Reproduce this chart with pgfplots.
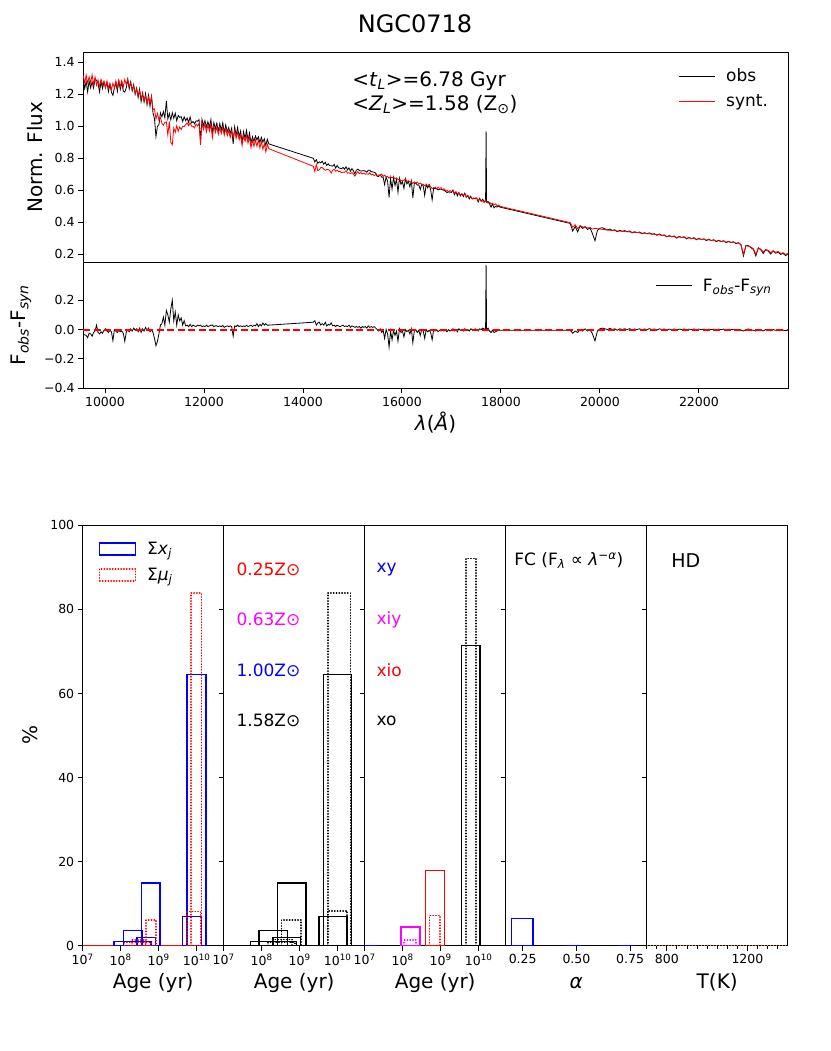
\documentclass[border=0pt]{standalone}
\usepackage{fontspec}
\setmainfont{DejaVu Sans}
\usepackage{pgfplots}
\usepackage{pgfplotstable}
\pgfplotsset{compat=1.18}
\definecolor{cR}{RGB}{255,0,0}
\definecolor{cM}{RGB}{255,0,255}
\definecolor{cB}{RGB}{0,0,255}
\definecolor{cK}{RGB}{0,0,0}
\newcommand{\fs}[2]{\fontsize{#1}{#2}\selectfont}
\pgfplotstableread{
lam obs syn res
9560 1.288 1.318 -0.030
9590 1.236 1.271 -0.035
9620 1.280 1.320 -0.040
9650 1.215 1.270 -0.055
9680 1.284 1.309 -0.025
9710 1.240 1.270 -0.030
9740 1.277 1.322 -0.045
9770 1.239 1.259 -0.020
9800 1.298 1.308 -0.010
9830 1.286 1.256 0.030
9860 1.270 1.290 -0.020
9890 1.215 1.245 -0.030
9920 1.279 1.294 -0.015
9950 1.235 1.260 -0.025
9980 1.277 1.282 -0.005
10010 1.244 1.239 0.005
10040 1.273 1.283 -0.010
10070 1.216 1.236 -0.020
10100 1.263 1.268 -0.005
10130 1.213 1.228 -0.015
10160 1.194 1.269 -0.075
10190 1.240 1.240 0.000
10220 1.272 1.284 -0.012
10250 1.219 1.239 -0.020
10280 1.283 1.288 -0.005
10310 1.231 1.246 -0.015
10340 1.275 1.285 -0.010
10370 1.220 1.245 -0.025
10400 1.214 1.294 -0.080
10430 1.240 1.260 -0.020
10460 1.294 1.294 0.000
10490 1.234 1.249 -0.015
10520 1.278 1.273 0.005
10550 1.221 1.231 -0.010
10580 1.260 1.250 0.010
10610 1.200 1.205 -0.005
10640 1.239 1.234 0.005
10670 1.180 1.195 -0.015
10700 1.232 1.222 0.010
10730 1.154 1.174 -0.020
10760 1.208 1.203 0.005
10790 1.151 1.161 -0.010
10820 1.205 1.190 0.015
10850 1.135 1.140 -0.005
10880 1.194 1.184 0.010
10910 1.125 1.140 -0.015
10940 1.187 1.187 0.000
10970 1.084 1.104 -0.020
11000 1.048 1.108 -0.060
11030 0.936 1.046 -0.110
11060 1.000 1.080 -0.080
11090 1.010 1.040 -0.030
11120 1.084 1.054 0.030
11150 1.060 1.020 0.040
11180 1.092 1.007 0.085
11210 1.054 1.024 0.030
11240 1.158 1.028 0.130
11270 1.046 0.946 0.100
11300 1.080 1.030 0.050
11330 1.040 0.900 0.140
11360 1.084 0.884 0.200
11390 1.050 0.990 0.060
11420 1.082 0.962 0.120
11450 1.034 1.004 0.030
11480 1.068 0.968 0.100
11510 1.056 0.996 0.060
11540 1.060 0.980 0.080
11570 1.030 1.000 0.030
11600 1.059 0.999 0.060
11630 1.035 1.010 0.025
11660 1.052 1.022 0.030
11690 1.024 1.004 0.020
11720 1.058 1.023 0.035
11750 1.021 1.001 0.020
11780 1.030 1.000 0.030
11810 1.015 0.990 0.025
11840 1.034 1.014 0.020
11870 1.032 1.002 0.030
11900 1.042 1.017 0.025
11930 0.914 0.884 0.030
11960 1.043 1.023 0.020
11990 1.006 0.981 0.025
12020 1.035 1.015 0.020
12050 0.995 0.965 0.030
12080 1.029 1.009 0.020
12110 0.995 0.970 0.025
12140 1.042 1.012 0.030
12170 0.959 0.929 0.030
12200 1.023 1.003 0.020
12230 0.986 0.961 0.025
12260 1.020 0.995 0.025
12290 0.970 0.950 0.020
12320 1.017 0.992 0.025
12350 0.975 0.955 0.020
12380 1.022 0.994 0.028
12410 0.959 0.944 0.015
12440 1.008 0.986 0.022
12470 0.966 0.941 0.025
12500 0.992 0.972 0.020
12530 0.955 0.930 0.025
12560 0.989 0.969 0.020
12590 0.890 0.935 -0.045
12620 0.997 0.972 0.025
12650 0.944 0.924 0.020
12680 0.993 0.963 0.030
12710 0.936 0.916 0.020
12740 0.970 0.945 0.025
12770 0.900 0.880 0.020
12800 0.967 0.942 0.025
12830 0.925 0.905 0.020
12860 0.974 0.944 0.030
12890 0.914 0.894 0.020
12920 0.958 0.933 0.025
12950 0.896 0.866 0.030
12980 0.935 0.915 0.020
13010 0.905 0.875 0.030
13040 0.939 0.914 0.025
13070 0.915 0.875 0.040
13100 0.935 0.915 0.020
13130 0.899 0.864 0.035
13160 0.931 0.906 0.025
13190 0.901 0.856 0.045
13220 0.922 0.892 0.030
13250 0.880 0.840 0.040
13280 0.919 0.889 0.030
13310 0.890 0.860 0.030
14210 0.800 0.750 0.050
14240 0.777 0.717 0.060
14270 0.791 0.761 0.030
14300 0.768 0.723 0.045
14330 0.778 0.728 0.050
14360 0.772 0.742 0.030
14390 0.782 0.742 0.040
14420 0.763 0.733 0.030
14450 0.775 0.725 0.050
14480 0.755 0.730 0.025
14510 0.766 0.731 0.035
14540 0.753 0.723 0.030
14570 0.753 0.708 0.045
14600 0.751 0.726 0.025
14630 0.762 0.732 0.030
14660 0.739 0.719 0.020
14690 0.755 0.725 0.030
14720 0.741 0.716 0.025
14750 0.738 0.718 0.020
14780 0.735 0.710 0.025
14810 0.743 0.713 0.030
14840 0.732 0.712 0.020
14870 0.747 0.722 0.025
14900 0.727 0.707 0.020
14930 0.740 0.710 0.030
14960 0.719 0.704 0.015
14990 0.736 0.711 0.025
15020 0.722 0.702 0.020
15050 0.703 0.688 0.015
15080 0.726 0.706 0.020
15110 0.732 0.717 0.015
15140 0.724 0.704 0.020
15170 0.720 0.710 0.010
15200 0.722 0.702 0.020
15230 0.723 0.708 0.015
15260 0.720 0.700 0.020
15290 0.713 0.703 0.010
15320 0.725 0.700 0.025
15350 0.725 0.710 0.015
15380 0.716 0.696 0.020
15410 0.715 0.700 0.015
15440 0.712 0.692 0.020
15470 0.708 0.698 0.010
15500 0.688 0.688 0.000
15530 0.686 0.696 -0.010
15560 0.697 0.692 0.005
15590 0.682 0.702 -0.020
15620 0.681 0.686 -0.005
15650 0.635 0.695 -0.060
15680 0.684 0.684 0.000
15710 0.656 0.686 -0.030
15740 0.556 0.676 -0.120
15770 0.674 0.684 -0.010
15800 0.608 0.678 -0.070
15830 0.679 0.684 -0.005
15860 0.631 0.671 -0.040
15890 0.668 0.678 -0.010
15920 0.587 0.667 -0.080
15950 0.676 0.671 0.005
15980 0.638 0.658 -0.020
16010 0.653 0.663 -0.010
16040 0.612 0.662 -0.050
16070 0.672 0.672 0.000
16100 0.640 0.655 -0.015
16130 0.655 0.660 -0.005
16160 0.622 0.652 -0.030
16190 0.659 0.654 0.005
16220 0.553 0.643 -0.090
16250 0.643 0.653 -0.010
16280 0.646 0.646 0.000
16310 0.632 0.652 -0.020
16340 0.634 0.639 -0.005
16370 0.605 0.645 -0.040
16400 0.637 0.637 0.000
16430 0.628 0.638 -0.010
16460 0.568 0.628 -0.060
16490 0.636 0.636 0.000
16520 0.615 0.630 -0.015
16550 0.632 0.637 -0.005
16580 0.603 0.623 -0.020
16610 0.540 0.610 -0.070
16640 0.612 0.617 -0.005
16670 0.611 0.621 -0.010
16700 0.610 0.610 0.000
16730 0.603 0.618 -0.015
16760 0.607 0.612 -0.005
16790 0.607 0.617 -0.010
16820 0.603 0.603 0.000
16850 0.600 0.610 -0.010
16880 0.594 0.599 -0.005
16910 0.586 0.601 -0.015
16940 0.590 0.590 0.000
16970 0.588 0.598 -0.010
17000 0.587 0.592 -0.005
17030 0.602 0.597 0.005
17060 0.573 0.583 -0.010
17090 0.590 0.590 0.000
17120 0.565 0.580 -0.015
17150 0.586 0.581 0.005
17180 0.565 0.570 -0.005
17210 0.578 0.578 0.000
17240 0.560 0.570 -0.010
17270 0.582 0.577 0.005
17300 0.556 0.561 -0.005
17330 0.568 0.568 0.000
17360 0.546 0.556 -0.010
17390 0.563 0.558 0.005
17420 0.546 0.546 0.000
17450 0.548 0.553 -0.005
17480 0.551 0.546 0.005
17510 0.552 0.552 0.000
17540 0.527 0.537 -0.010
17570 0.550 0.545 0.005
17600 0.532 0.532 0.000
17630 0.544 0.534 0.010
17660 0.528 0.523 0.005
17690 0.538 0.538 0.000
17700 0.968 0.528 0.440
17710 0.526 0.526 0.000
17740 0.530 0.520 0.010
17770 0.515 0.525 -0.010
17800 0.495 0.515 -0.020
17830 0.515 0.520 -0.005
17860 0.490 0.510 -0.020
17890 0.500 0.515 -0.015
17920 0.495 0.505 -0.010
17950 0.503 0.508 -0.005
17980 0.495 0.500 -0.005
19400 0.393 0.398 -0.005
19450 0.345 0.370 -0.025
19500 0.375 0.385 -0.010
19550 0.340 0.360 -0.020
19600 0.378 0.378 0.000
19650 0.362 0.372 -0.010
19700 0.373 0.368 0.005
19750 0.355 0.365 -0.010
19800 0.366 0.366 0.000
19850 0.328 0.358 -0.030
19900 0.285 0.362 -0.077
19950 0.350 0.360 -0.010
20000 0.363 0.358 0.005
20050 0.366 0.356 0.010
20100 0.359 0.354 0.005
20150 0.352 0.352 0.000
20200 0.358 0.350 0.008
20250 0.349 0.349 0.000
20300 0.353 0.348 0.005
20350 0.341 0.346 -0.005
20400 0.350 0.345 0.005
20450 0.344 0.344 0.000
20500 0.348 0.343 0.005
20550 0.341 0.341 0.000
20600 0.346 0.340 0.006
20650 0.334 0.338 -0.004
20700 0.341 0.337 0.004
20750 0.336 0.336 0.000
20800 0.339 0.334 0.005
20850 0.329 0.332 -0.003
20900 0.335 0.331 0.004
20950 0.329 0.329 0.000
21000 0.334 0.328 0.006
21050 0.326 0.326 0.000
21100 0.329 0.325 0.004
21150 0.319 0.323 -0.004
21200 0.327 0.322 0.005
21250 0.318 0.318 0.000
21300 0.321 0.317 0.004
21350 0.309 0.312 -0.003
21400 0.317 0.314 0.003
21450 0.310 0.310 0.000
21500 0.315 0.311 0.004
21550 0.301 0.305 -0.004
21600 0.312 0.309 0.003
21650 0.305 0.305 0.000
21700 0.310 0.306 0.004
21750 0.297 0.300 -0.003
21800 0.306 0.303 0.003
21850 0.298 0.298 0.000
21900 0.304 0.300 0.004
21950 0.291 0.294 -0.003
22000 0.300 0.297 0.003
22050 0.292 0.292 0.000
22100 0.297 0.294 0.003
22150 0.286 0.289 -0.003
22200 0.294 0.291 0.003
22250 0.286 0.286 0.000
22300 0.291 0.288 0.003
22350 0.279 0.283 -0.004
22400 0.288 0.285 0.003
22450 0.280 0.280 0.000
22500 0.285 0.282 0.003
22550 0.273 0.276 -0.003
22600 0.281 0.279 0.002
22650 0.274 0.274 0.000
22700 0.278 0.276 0.002
22750 0.267 0.270 -0.003
22800 0.272 0.272 0.000
22850 0.258 0.262 -0.004
22900 0.190 0.200 -0.010
22950 0.255 0.255 0.000
23000 0.254 0.250 0.004
23050 0.242 0.245 -0.003
23100 0.230 0.235 -0.005
23150 0.190 0.200 -0.010
23200 0.240 0.240 0.000
23250 0.228 0.232 -0.004
23300 0.205 0.215 -0.010
23350 0.230 0.230 0.000
23400 0.220 0.224 -0.004
23450 0.202 0.210 -0.008
23500 0.222 0.222 0.000
23550 0.207 0.212 -0.005
23600 0.213 0.218 -0.005
23650 0.199 0.205 -0.006
23700 0.206 0.210 -0.004
23750 0.192 0.200 -0.008
23800 0.202 0.205 -0.003
}\spec
\pgfplotsset{
  base/.style={
    scale only axis,
    axis line style={line width=0.9pt},
    tick style={line width=0.9pt, black},
    tick align=outside,
    major tick length=5pt,
    minor tick length=3pt,
    tick pos=left,
    ticklabel style={font=\fs{12.5}{15}},
    /pgf/number format/assume math mode=true,
    scaled ticks=false,
    label style={font=\fs{20}{24}},
  },
  panel/.style={
    base, anchor=south west, width=141pt, height=420.4pt,
    ymin=0, ymax=100, ytick={0,20,40,60,80,100}, yticklabels={},
    xlabel style={at={(axis description cs:0.5,-0.088)}, anchor=center},
  },
  agepanel/.style={
    panel, xmin=7, xmax=10.71, xtick={7,8,9,10},
    xticklabels={10\textsuperscript{7},10\textsuperscript{8},10\textsuperscript{9},10\textsuperscript{10}},
    xlabel={Age (yr)},
  },
  rectleg/.style={legend image code/.code={\draw[##1] (0pt,-6pt) rectangle (36pt,6pt);}},
  lineleg/.style={legend image code/.code={\draw[##1] (0pt,0pt) -- (36pt,0pt);}},
  gapleg/.style={/tikz/every odd column/.append style={column sep=9pt}},
}
\tikzset{sol/.style={line width=1.5pt}, dott/.style={line width=1.5pt, line cap=round, dash pattern=on 0.4pt off 2.4pt}}
\begin{document}
\begin{tikzpicture}
\path[use as bounding box] (0,0) rectangle (830pt,1051pt);
% ---------------- spectrum ----------------
\begin{axis}[base, at={(83pt,789pt)}, anchor=south west, width=705pt, height=209.7pt,
  xmin=9556, xmax=23800, ymin=0.152, ymax=1.4625,
  xtick=\empty, ytick={0.2,0.4,0.6,0.8,1.0,1.2,1.4},
  yticklabels={0.2,0.4,0.6,0.8,1.0,1.2,1.4},
  ylabel={Norm. Flux}, ylabel style={at={(axis description cs:-0.068,0.5)}, anchor=center},
  title={NGC0718}, title style={at={(axis description cs:0.471,1.0668)}, anchor=base, inner sep=0pt, font=\fs{24}{28}},
  legend style={draw=none, fill=none, at={(axis description cs:0.84,0.94)}, anchor=north west,
    font=\fs{17}{20}, row sep=7pt, cells={anchor=west}, gapleg},
  lineleg,
]
\addplot[cK, line width=0.8pt] table[x=lam, y=obs] {\spec};
\addplot[cR, line width=0.8pt] table[x=lam, y=syn] {\spec};
\legend{obs, synt.}
\node[anchor=west, font=\fs{20}{24}] at (axis description cs:0.377,0.862) {<\textit{t}\textsubscript{\textit{L}}>=6.78 Gyr};
\node[anchor=west, font=\fs{20}{24}] at (axis description cs:0.377,0.752) {<\textit{Z}\textsubscript{\textit{L}}>=1.58 (Z\textsubscript{⊙})};
\end{axis}
% ---------------- residual ----------------
\begin{axis}[base, at={(83pt,662.7pt)}, anchor=south west, width=705pt, height=126.3pt,
  xmin=9556, xmax=23800, ymin=-0.4, ymax=0.46,
  xtick={10000,12000,14000,16000,18000,20000,22000},
  xticklabels={10000,12000,14000,16000,18000,20000,22000},
  ytick={-0.4,-0.2,0,0.2}, yticklabels={−0.4,−0.2,0.0,0.2},
  xlabel={\textit{λ}(\textit{Å})}, xlabel style={at={(axis description cs:0.5,-0.27)}, anchor=center},
  ylabel={F\textsubscript{\textit{obs}}-F\textsubscript{\textit{syn}}},
  ylabel style={at={(axis description cs:-0.088,0.5)}, anchor=center},
  legend style={draw=none, fill=none, at={(axis description cs:0.807,0.90)}, anchor=north west,
    font=\fs{17}{20}, gapleg},
  lineleg,
]
\addplot[cK, line width=0.8pt] table[x=lam, y=res] {\spec};
\addlegendentry{F\textsubscript{\textit{obs}}-F\textsubscript{\textit{syn}}}
\addplot[cR, line width=2pt, dash pattern=on 7pt off 3.5pt, forget plot] coordinates {(9556,0) (23800,0)};
\end{axis}
% ---------------- panel 1 ----------------
\begin{axis}[agepanel, at={(82.7pt,105.3pt)},
  yticklabels={0,20,40,60,80,100}, ylabel={\%},
  ylabel style={at={(axis description cs:-0.374,0.5)}, anchor=center},
  legend style={draw=none, fill=none, at={(axis description cs:0.09,0.97)}, anchor=north west,
    font=\fs{17}{20}, row sep=8pt, cells={anchor=west}, gapleg},
]
\addplot[cR, line width=1pt, forget plot] coordinates {(7,0) (9.9,0)};
\addplot[cB, sol, forget plot] coordinates {(7.83,0) (7.83,1.0) (8.80,1.0) (8.80,0) (7.83,0)};
\addplot[cB, sol, forget plot] coordinates {(8.07,0) (8.07,3.6) (8.57,3.6) (8.57,0) (8.07,0)};
\addplot[cB, sol, forget plot] coordinates {(8.55,0) (8.55,14.9) (9.04,14.9) (9.04,0) (8.55,0)};
\addplot[cB, sol, forget plot] coordinates {(8.43,0) (8.43,2.0) (8.92,2.0) (8.92,0) (8.43,0)};
\addplot[cB, sol, forget plot] coordinates {(9.63,0) (9.63,7.0) (10.12,7.0) (10.12,0) (9.63,0)};
\addplot[cB, sol, forget plot] coordinates {(9.74,0) (9.74,64.5) (10.24,64.5) (10.24,0) (9.74,0)};
\addplot[cR, dott, forget plot] coordinates {(8.67,0) (8.67,6.1) (8.93,6.1) (8.93,0) (8.67,0)};
\addplot[cR, dott, forget plot] coordinates {(9.75,0) (9.75,8.1) (10.10,8.1) (10.10,0) (9.75,0)};
\addplot[cR, dott, forget plot] coordinates {(9.85,0) (9.85,83.9) (10.12,83.9) (10.12,0) (9.85,0)};
\addplot[cR, dott, forget plot] coordinates {(8.10,0) (8.10,0.8) (8.80,0.8) (8.80,0) (8.10,0)};
\addplot[cR, dott, forget plot] coordinates {(8.30,0) (8.30,1.3) (8.65,1.3) (8.65,0) (8.30,0)};
\addlegendimage{cB, line width=1.5pt, rectleg}
\addlegendentry{Σ\textit{x}\textsubscript{\textit{j}}}
\addlegendimage{cR, dott, rectleg}
\addlegendentry{Σ\textit{μ}\textsubscript{\textit{j}}}
\end{axis}
% ---------------- panel 2 ----------------
\begin{axis}[agepanel, at={(223.7pt,105.3pt)}]
\addplot[cK, sol] coordinates {(7.70,0) (7.70,1.0) (8.92,1.0) (8.92,0) (7.70,0)};
\addplot[cK, sol] coordinates {(7.93,0) (7.93,3.6) (8.68,3.6) (8.68,0) (7.93,0)};
\addplot[cK, sol] coordinates {(8.42,0) (8.42,14.9) (9.16,14.9) (9.16,0) (8.42,0)};
\addplot[cK, sol] coordinates {(8.30,0) (8.30,2.0) (9.02,2.0) (9.02,0) (8.30,0)};
\addplot[cK, sol] coordinates {(9.51,0) (9.51,6.9) (10.25,6.9) (10.25,0) (9.51,0)};
\addplot[cK, sol] coordinates {(9.62,0) (9.62,64.5) (10.36,64.5) (10.36,0) (9.62,0)};
\addplot[cK, dott] coordinates {(8.52,0) (8.52,6.1) (9.04,6.1) (9.04,0) (8.52,0)};
\addplot[cK, dott] coordinates {(9.73,0) (9.73,8.3) (10.25,8.3) (10.25,0) (9.73,0)};
\addplot[cK, dott] coordinates {(9.74,0) (9.74,83.9) (10.33,83.9) (10.33,0) (9.74,0)};
\addplot[cK, dott] coordinates {(8.17,0) (8.17,0.8) (8.87,0.8) (8.87,0) (8.17,0)};
\addplot[cK, dott] coordinates {(8.30,0) (8.30,1.5) (8.80,1.5) (8.80,0) (8.30,0)};
\node[anchor=west, font=\fs{17}{20}, text=cR] at (axis cs:7.245,89.5) {0.25Z⊙};
\node[anchor=west, font=\fs{17}{20}, text=cM] at (axis cs:7.245,77.6) {0.63Z⊙};
\node[anchor=west, font=\fs{17}{20}, text=cB] at (axis cs:7.245,65.6) {1.00Z⊙};
\node[anchor=west, font=\fs{17}{20}, text=cK] at (axis cs:7.245,53.5) {1.58Z⊙};
\end{axis}
% ---------------- panel 3 ----------------
\begin{axis}[agepanel, at={(364.7pt,105.3pt)}]
\addplot[cB, line width=1.5pt] coordinates {(7.0,0) (7.35,0)};
\addplot[cM, sol] coordinates {(7.955,0) (7.955,4.5) (8.455,4.5) (8.455,0) (7.955,0)};
\addplot[cM, dott] coordinates {(8.04,0) (8.04,1.3) (8.35,1.3) (8.35,0) (8.04,0)};
\addplot[cR, sol] coordinates {(8.605,0) (8.605,17.9) (9.095,17.9) (9.095,0) (8.605,0)};
\addplot[cR, dott] coordinates {(8.71,0) (8.71,7.2) (8.98,7.2) (8.98,0) (8.71,0)};
\addplot[cK, sol] coordinates {(9.553,0) (9.553,71.4) (10.034,71.4) (10.034,0) (9.553,0)};
\addplot[cK, dott] coordinates {(9.666,0) (9.666,92.1) (9.929,92.1) (9.929,0) (9.666,0)};
\node[anchor=west, font=\fs{17}{20}, text=cB] at (axis cs:7.22,89.5) {xy};
\node[anchor=west, font=\fs{17}{20}, text=cM] at (axis cs:7.22,77.6) {xiy};
\node[anchor=west, font=\fs{17}{20}, text=cR] at (axis cs:7.22,65.6) {xio};
\node[anchor=west, font=\fs{17}{20}, text=cK] at (axis cs:7.22,53.5) {xo};
\end{axis}
% ---------------- panel 4 ----------------
\begin{axis}[panel, at={(505.7pt,105.3pt)}, xmin=0.171, xmax=0.827,
  xtick={0.25,0.5,0.75}, xticklabels={0.25,0.50,0.75}, xlabel={\textit{α}}]
\addplot[cB, line width=1pt] coordinates {(0.45,0) (0.52,0)};
\addplot[cB, line width=1pt] coordinates {(0.70,0) (0.77,0)};
\addplot[cB, sol] coordinates {(0.197,0) (0.197,6.5) (0.299,6.5) (0.299,0) (0.197,0)};
\node[anchor=west, font=\fs{17}{20}] at (axis cs:0.195,91.6) {FC (F\textsubscript{\textit{λ}} ∝ \textit{λ}\textsuperscript{−\textit{α}})};
\end{axis}
% ---------------- panel 5 ----------------
\begin{axis}[panel, at={(646.7pt,105.3pt)}, xmin=700, xmax=1400,
  xtick={800,1200}, xticklabels={800,1200},
  minor xtick={700,750,850,900,950,1000,1050,1100,1150,1250,1300,1350},
  xlabel={T(K)}]
\addplot[brown, line width=1pt, dash pattern=on 1.5pt off 1.5pt] coordinates {(700,0) (1400,0)};
\node[anchor=west, font=\fs{19}{22}] at (axis cs:805,91.6) {HD};
\end{axis}
\end{tikzpicture}
\end{document}
